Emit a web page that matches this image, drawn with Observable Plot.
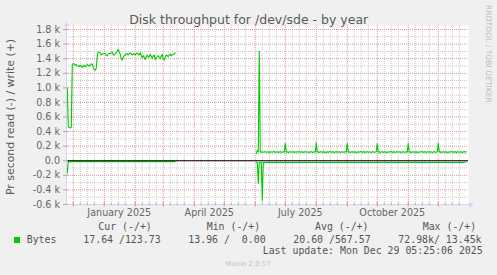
<!DOCTYPE html>
<html><head><meta charset="utf-8">
<script src="https://cdn.jsdelivr.net/npm/d3@7"></script>
<script src="https://cdn.jsdelivr.net/npm/@observablehq/plot@0.6"></script>
<style>
body{margin:0;background:#f0f0f0;}
#c{position:relative;width:497px;height:275px;overflow:hidden;background:#f0f0f0;font-family:"DejaVu Sans";color:#666;}
#c svg{position:absolute;left:0;top:0;}
.t{position:absolute;white-space:pre;line-height:12px;height:12px;}
.mono{font-family:"DejaVu Sans Mono";font-size:9.9px;color:#555;}
</style></head><body><div id="c"></div>
<script>
// ---- data ----
const title = "Disk throughput for /dev/sde - by year";
const yLabel = "Pr second read (-) / write (+)";
const seriesName = "Bytes";
const graphStart = "2024-11-24T05:25:06Z";
const spanDays = 402;
const seg1Start = "2024-11-25";
const write1 = [
1000,470,455,450,460,1320,1330,1330,1310,1320,
1300,1300,1290,1310,1300,1280,1300,1310,1290,1300,
1320,1310,1300,1310,1330,1320,1280,1250,1240,1270,
1440,1490,1490,1480,1450,1460,1470,1470,1470,1440,
1440,1460,1470,1470,1480,1490,1450,1450,1470,1490,
1500,1530,1490,1460,1400,1380,1420,1440,1450,1470,
1460,1450,1470,1480,1460,1450,1470,1460,1450,1470,
1480,1460,1450,1480,1440,1410,1440,1420,1390,1430,
1450,1420,1430,1460,1430,1400,1440,1450,1390,1410,
1430,1440,1420,1400,1440,1460,1390,1380,1420,1450,
1440,1430,1450,1460,1440,1450,1460,1470,1480];
const read1 = [
170,11,12,12,11,12,13,12,11,12,
12,13,12,11,12,12,13,12,12,11,
12,13,12,12,11,12,12,13,12,11,
12,12,13,12,12,11,12,13,12,12,
11,12,12,13,12,11,12,12,13,12,
12,11,12,13,12,12,11,12,12,13,
12,11,12,12,13,12,12,11,12,13,
12,12,11,12,12,13,12,11,12,12,
13,12,12,11,12,13,12,12,11,12,
12,13,12,11,12,12,13,12,12,11,
12,13,12,12,11,12,12,13,12];
const seg2Start = "2025-06-02";
const write2 = [
100,140,120,1500,120,118,124,115,121,126,
114,119,125,113,120,124,116,122,127,115,
119,125,113,121,126,114,120,124,117,240,
118,124,112,120,126,115,121,125,113,119,
124,116,122,127,114,120,125,113,119,126,
115,121,124,112,120,126,114,119,125,117,
245,119,124,113,121,126,115,120,125,112,
118,124,116,122,127,114,120,125,113,119,
126,115,121,124,112,120,126,114,119,125,
117,240,118,124,113,121,126,115,120,125,
112,118,124,116,122,127,114,120,125,113,
119,126,115,121,124,112,120,126,114,119,
125,235,117,124,113,121,126,115,120,125,
112,118,124,116,122,127,114,120,125,113,
119,126,115,121,124,112,120,126,114,119,
125,117,240,118,124,113,121,126,115,120,
125,112,118,124,116,122,127,114,120,125,
113,119,126,115,121,124,112,120,126,114,
119,125,240,117,124,113,121,126,115,120,
125,112,118,124,116,122,127,114,120,125,
113,119,126,115,121,124,112,120,126,118,124];
const read2 = [
20,22,310,24,23,22,540,24,22,23,
24,22,23,21,24,22,23,24,22,21,
23,24,22,23,21,24,22,23,24,22,
22,23,24,21,23,22,24,23,21,22,
24,22,23,21,24,22,23,24,22,21,
23,24,22,23,21,24,22,23,24,22,
22,23,24,21,23,22,24,23,21,22,
24,22,23,21,24,22,23,24,22,21,
23,24,22,23,21,24,22,23,24,22,
22,23,24,21,23,22,24,23,21,22,
24,22,23,21,24,22,23,24,22,21,
23,24,22,23,21,24,22,23,24,22,
22,23,24,21,23,22,24,23,21,22,
24,22,23,21,24,22,23,24,22,21,
23,24,22,23,21,24,22,23,24,22,
22,23,24,21,23,22,24,23,21,22,
24,22,23,21,24,22,23,24,22,21,
23,24,22,23,21,24,22,23,24,22,
22,23,24,21,23,22,24,23,21,22,
24,22,23,21,24,22,23,24,22,21,
23,24,22,23,21,24,22,23,21,20,18];
const yMajor = [-600,-400,-200,0,200,400,600,800,1000,1200,1400,1600,1800];
const yMinor = [-500,-300,-100,100,300,500,700,900,1100,1300,1500,1700];
const xLabelDates = ["2025-01-16","2025-04-16","2025-07-16","2025-10-16"];
const legendHeaders = ["Cur (-/+)","Min (-/+)","Avg (-/+)","Max (-/+)"];
const legendValues = ["17.64 /123.73","13.96 /  0.00","20.60 /567.57","72.98k/ 13.45k"];
const lastUpdate = "Last update: Mon Dec 29 05:25:06 2025";
const footer = "Munin 2.0.57";
const watermark = "RRDTOOL / TOBI OETIKER";

// ---- build ----
const t0 = new Date(graphStart);
const t1 = d3.utcDay.offset(t0, spanDays);
function build(startStr, vals, key, sign) {
  const s = new Date(startStr + "T00:00:00Z");
  return vals.map((v, i) => ({date: d3.utcDay.offset(s, i), value: sign * v, key}));
}
const rows = [
  ...build(seg1Start, write1, "w1", 1),
  ...build(seg1Start, read1, "r1", -1),
  ...build(seg2Start, write2, "w2", 1),
  ...build(seg2Start, read2, "r2", -1)
];
const months = d3.utcMonth.range(t0, t1);
const minorDays = [];
for (const m of d3.utcMonth.range(d3.utcMonth.floor(t0), t1)) {
  for (const d of [7, 14, 21]) {
    const dt = d3.utcDay.offset(m, d);
    if (dt > t0 && dt < t1) minorDays.push(dt);
  }
}
const axisCol = "#CFD6F8";
const gridCol = "#c8c8c8";
const mgridCol = "#dc9898";
const yTop = 1862;
const pxU = 2455 / 179; // value units per pixel

const chart = Plot.plot({
  width: 497, height: 275,
  marginLeft: 66, marginRight: 29, marginTop: 25, marginBottom: 71,
  x: {type: "utc", domain: [t0, t1]},
  y: {domain: [-600, 1855]},
  style: {background: "transparent", fontFamily: "DejaVu Sans", fontSize: "9.6px", color: "#666", overflow: "visible"},
  marks: [
    Plot.frame({fill: "white", stroke: "none"}),
    Plot.ruleY(yMinor, {stroke: gridCol, strokeDasharray: "1,1"}),
    Plot.ruleX(minorDays, {stroke: gridCol, strokeDasharray: "1,1"}),
    Plot.ruleY(yMajor.filter(v => v !== -600), {stroke: mgridCol, strokeDasharray: "1,1"}),
    Plot.ruleX(months, {stroke: mgridCol, strokeDasharray: "1,1"}),
    Plot.line(rows, {x: "date", y: "value", z: "key", stroke: "#00CC00", strokeWidth: 1.1}),
    Plot.ruleY([0], {stroke: "black", strokeWidth: 1}),
    Plot.ruleY([-600], {x1: t0, x2: d3.utcDay.offset(t0, 404), stroke: axisCol}),
    Plot.ruleX([t0], {y1: -600, y2: yTop, stroke: axisCol}),
    Plot.ruleX(minorDays, {y1: -600 - 1.5 * pxU, y2: -600 + 1.5 * pxU, stroke: "#bbbbbb"}),
    Plot.ruleX(months, {y1: -600 - 2.5 * pxU, y2: -600 + 2.5 * pxU, stroke: "#e08c8c"}),
    Plot.ruleY(yMajor, {x1: d3.utcDay.offset(t0, -2.5), x2: d3.utcDay.offset(t0, 2), stroke: "#c9a0a0"}),
    Plot.dot([{x: t0, y: yTop}], {x: "x", y: "y", symbol: "triangle", r: 2, fill: axisCol, stroke: "none"}),
    Plot.dot([{x: d3.utcDay.offset(t0, 404.5), y: -600}], {x: "x", y: "y", symbol: "triangle", r: 2, fill: axisCol, stroke: "none", rotate: 90}),
    Plot.axisY({ticks: yMajor, tickSize: 0, tickPadding: 6.5, label: null,
      tickFormat: d => d === 0 ? "0.0" : (d / 1000).toFixed(1) + " k"}),
    Plot.axisX({ticks: xLabelDates.map(s => new Date(s + "T00:00:00Z")), tickSize: 0, tickPadding: 4.5, label: null,
      tickFormat: d3.utcFormat("%B %Y")})
  ]
});
const c = document.getElementById("c");
c.appendChild(chart);

function txt(s, x, yc, opts = {}) {
  const d = document.createElement("div");
  d.className = "t" + (opts.mono ? " mono" : "");
  d.textContent = s;
  if (opts.size) d.style.fontSize = opts.size + "px";
  if (opts.color) d.style.color = opts.color;
  d.style.top = (yc - 6) + "px";
  if (opts.anchor === "middle") { d.style.left = x + "px"; d.style.transform = "translateX(-50%)"; }
  else if (opts.anchor === "end") { d.style.right = (497 - x) + "px"; }
  else d.style.left = x + "px";
  c.appendChild(d);
  return d;
}
txt(title, 248.7, 19.5, {anchor: "middle", size: 12.5, color: "#5a5a5a"});
// y label rotated
const yl = document.createElement("div");
yl.className = "t"; yl.textContent = yLabel;
yl.style.fontSize = "10.9px"; yl.style.left = "10.6px"; yl.style.top = "116.5px";
yl.style.transform = "translate(-50%,-50%) rotate(-90deg)"; yl.style.color = "#5a5a5a";
c.appendChild(yl);
// watermark rotated
const wm = document.createElement("div");
wm.className = "t"; wm.textContent = watermark;
wm.style.fontSize = "7.6px"; wm.style.left = "488px"; wm.style.top = "54px";
wm.style.transform = "translate(-50%,-50%) rotate(90deg)"; wm.style.color = "#bcbcbc";
c.appendChild(wm);
// legend
const hx = [98.3, 206.7, 315, 422.7];
const vx = [83.3, 188.3, 293.3, 398.3];
legendHeaders.forEach((h, i) => txt(h, hx[i], 227.3, {mono: true}));
legendValues.forEach((v, i) => txt(v, vx[i], 239.7, {mono: true}));
txt(seriesName, 26.7, 239.7, {mono: true});
const sq = document.createElement("div");
sq.style.cssText = "position:absolute;left:14px;top:237px;width:6px;height:6px;background:#00CC00;";
c.appendChild(sq);
txt(lastUpdate, 482.7, 251.3, {mono: true, anchor: "end"});
txt(footer, 248, 263.8, {anchor: "middle", size: 6.9, color: "#c4c4c4"});
</script></body></html>
